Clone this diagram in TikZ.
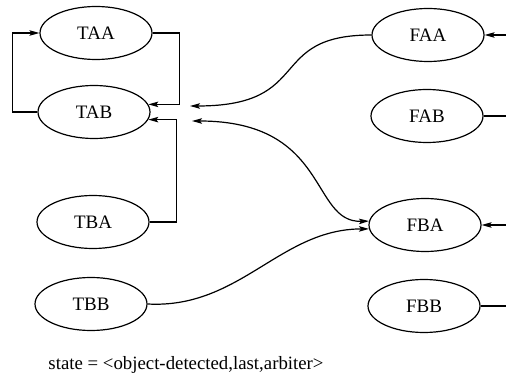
\documentclass[tikz,border=0pt]{standalone}
\usepackage{fontspec}
\setmainfont{Liberation Serif}
\usetikzlibrary{arrows.meta,calc,shapes.geometric}
\begin{document}
\begin{tikzpicture}[x=1pt,y=-1pt,
  st/.style={draw,ellipse,line width=1.2pt,minimum width=112pt,minimum height=53pt,inner sep=0pt,font=\fontsize{19}{21}\selectfont},
  ln/.style={line width=1.2pt},
  arr/.style={ln,-{Stealth[length=10pt,width=5.5pt,inset=2pt]}},
  darr/.style={ln,{Stealth[length=10pt,width=5.5pt,inset=2pt]}-{Stealth[length=10pt,width=5.5pt,inset=2pt]}}]
\useasboundingbox (0,0) rectangle (506,382);
\node[st] (TAA) at (96,33) {TAA};
\node[st] (TAB) at (94,112) {TAB};
\node[st] (TBA) at (93,222) {TBA};
\node[st] (TBB) at (91,304) {TBB};
\node[st] (FAA) at (428,35) {FAA};
\node[st] (FAB) at (427,116) {FAB};
\node[st] (FBA) at (425,225) {FBA};
\node[st] (FBB) at (424,306) {FBB};
\node[font=\fontsize{18.8}{21}\selectfont] (lab) at (186,365) {state = <object-detected,last,arbiter>};
\coordinate (ea) at (190,106);
\coordinate (eb) at (192,121);
\coordinate (ra) at (508,35);
\coordinate (rb) at (508,116);
\coordinate (rc) at (508,225);
\coordinate (rd) at (508,306);
\draw[arr] (TAA.east) -- ++(27,0) |- (TAB.8);
\draw[arr] (TBA.east) -- ++(27,0) |- (TAB.-8);
\draw[arr] (TAB.west) -- ++(-25,0) |- (TAA.west);
\draw[arr] (FAA.west) .. controls (265,35) and (315,106) .. (ea);
\draw[darr] (eb) .. controls (330,121) and (310,223) .. (FBA.176);
\draw[arr] (TBB.east) .. controls (240,309) and (280,229) .. (FBA.184);
\draw[arr] (ra) -- (FAA.east);
\draw[ln] (FAB.east) -- (rb);
\draw[arr] (rc) -- (FBA.east);
\draw[ln] (FBB.east) -- (rd);
\end{tikzpicture}
\end{document}
